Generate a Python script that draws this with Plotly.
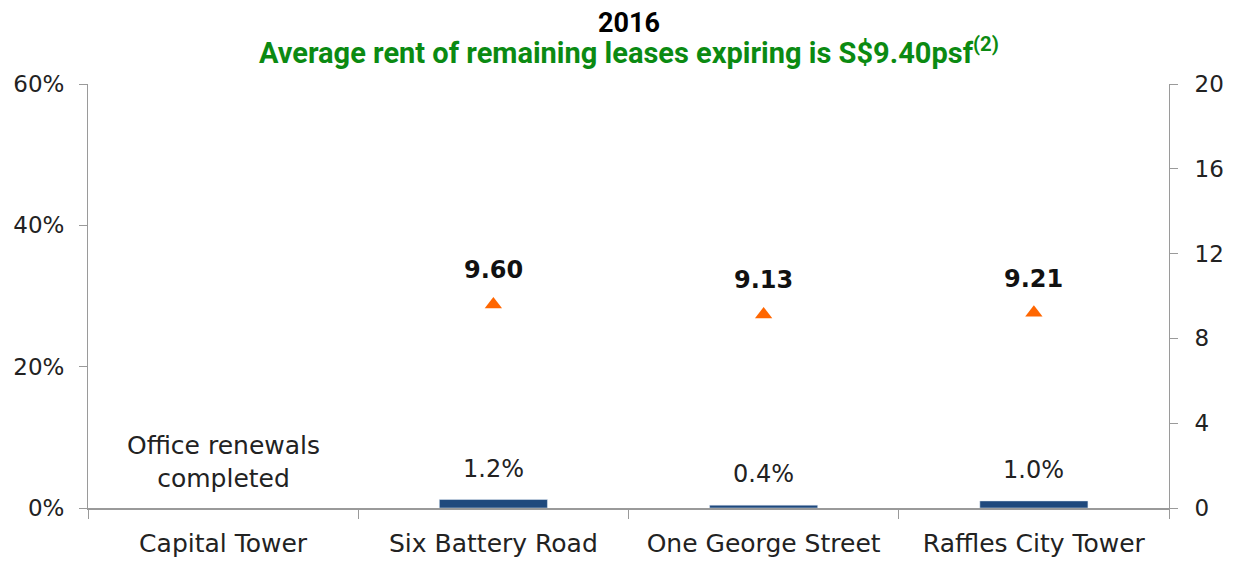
import plotly.graph_objects as go

# data
properties = ["Capital Tower", "Six Battery Road", "One George Street", "Raffles City Tower"]
expiring_pct = [None, 1.2, 0.4, 1.0]          # left axis, % of leases expiring
rent_psf = [None, 9.60, 9.13, 9.21]           # right axis, S$ psf
left_ticks = [0, 20, 40, 60]
right_ticks = [0, 4, 8, 12, 16, 20]

FONT = "'DejaVu Sans', sans-serif"
AXIS_GREY = "#9a9a9a"
TEXT = "#222222"

# page body has an 8px margin, so the figure is a bit smaller than the window
W, H = 1231, 561
M = dict(l=80, r=70, t=76, b=61)

fig = go.Figure()

fig.add_trace(
    go.Bar(
        x=properties,
        y=expiring_pct,
        marker_color="#1F497D",
        width=0.4,
        yaxis="y",
        hoverinfo="skip",
    )
)

fig.add_trace(
    go.Scatter(
        x=properties,
        y=rent_psf,
        mode="markers",
        marker=dict(symbol="triangle-up", size=15, color="#FF6600"),
        yaxis="y2",
        hoverinfo="skip",
    )
)

annotations = []
for name, pct in zip(properties, expiring_pct):
    if pct is None:
        continue
    annotations.append(
        dict(
            x=name, y=pct, xref="x", yref="y",
            text=f"{pct:.1f}%", showarrow=False,
            yanchor="bottom", yshift=15,
            font=dict(family=FONT, size=24, color=TEXT),
        )
    )
for name, rent in zip(properties, rent_psf):
    if rent is None:
        continue
    annotations.append(
        dict(
            x=name, y=rent, xref="x", yref="y2",
            text=f"<b>{rent:.2f}</b>", showarrow=False,
            yanchor="middle", yshift=34,
            font=dict(family=FONT, size=24, color="#111111"),
        )
    )

annotations.append(
    dict(
        x=properties[0], y=0, xref="x", yref="y",
        text="Office renewals<br>completed", showarrow=False,
        yanchor="bottom", yshift=13,
        font=dict(family=FONT, size=25, color=TEXT),
    )
)

# title lines, placed from the top edge of the figure
PLOT_H = H - M["t"] - M["b"]
TOP = 1 + M["t"] / PLOT_H
annotations.append(
    dict(
        x=0.5, y=TOP, xref="paper", yref="paper", yanchor="top", yshift=3,
        text="<b>2016</b>", showarrow=False,
        font=dict(family="Roboto, sans-serif", size=27, color="#000000"),
    )
)
annotations.append(
    dict(
        x=0.5, y=TOP, xref="paper", yref="paper", yanchor="top", yshift=-22,
        text="<b>Average rent of remaining leases expiring is S$9.40psf<sup>(2)</sup></b>",
        showarrow=False,
        font=dict(family="Roboto, sans-serif", size=29, color="#0B8A12"),
    )
)

fig.update_layout(
    width=W,
    height=H,
    margin=M,
    paper_bgcolor="white",
    plot_bgcolor="white",
    showlegend=False,
    font=dict(family=FONT, color=TEXT),
    annotations=annotations,
    xaxis=dict(
        type="category",
        range=[-0.5, 3.5],
        automargin=False,
        showgrid=False,
        showline=True,
        linecolor=AXIS_GREY,
        linewidth=1.5,
        ticks="outside",
        tickson="boundaries",
        ticklen=9,
        tickcolor=AXIS_GREY,
        ticklabelstandoff=12,
        tickfont=dict(family=FONT, size=25, color=TEXT),
    ),
    yaxis=dict(
        range=[0, 60],
        tickvals=left_ticks,
        ticktext=[f"{v}%" for v in left_ticks],
        automargin=False,
        showgrid=False,
        zeroline=False,
        showline=True,
        linecolor=AXIS_GREY,
        linewidth=1,
        ticks="outside",
        ticklen=8,
        tickcolor=AXIS_GREY,
        ticklabelstandoff=10,
        tickfont=dict(family=FONT, size=23, color=TEXT),
    ),
    yaxis2=dict(
        range=[0, 20],
        tickvals=right_ticks,
        overlaying="y",
        side="right",
        automargin=False,
        showgrid=False,
        zeroline=False,
        showline=True,
        linecolor=AXIS_GREY,
        linewidth=1,
        ticks="outside",
        ticklen=8,
        tickcolor=AXIS_GREY,
        ticklabelstandoff=12,
        tickfont=dict(family=FONT, size=23, color=TEXT),
    ),
)

fig.write_html("out.html")
